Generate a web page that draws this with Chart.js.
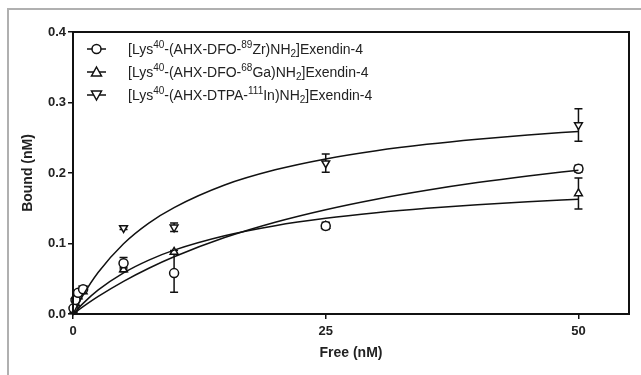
<!DOCTYPE html>
<html>
<head>
<meta charset="utf-8">
<script src="https://cdn.jsdelivr.net/npm/chart.js@4.4.0/dist/chart.umd.min.js"></script>
<style>
  html, body { margin: 0; padding: 0; background: #fff; }
  #wrap { width: 641px; height: 375px; position: relative; }
</style>
</head>
<body>
<div id="wrap"><canvas id="bindingChart" width="641" height="375"></canvas></div>
<script>

// DATA

const freeConc = [0.05, 0.25, 0.5, 1, 5, 10, 25, 50];

const zrBound = [0.008, 0.02, 0.03, 0.035, 0.072, 0.058, 0.125, 0.206];
const zrErr   = [0, 0, 0, 0, 0.008, 0.027, 0.004, 0.005];

const gaBound = [0.004, 0.015, 0.025, 0.032, 0.063, 0.088, 0.125, 0.171];
const gaErr   = [0, 0, 0, 0, 0.003, 0.002, 0.005, 0.022];

const inBound = [0.006, 0.018, 0.03, 0.036, 0.122, 0.123, 0.214, 0.268];
const inErr   = [0, 0, 0, 0, 0.002, 0.006, 0.013, 0.023];

// fitted curves
const curveX   = [0, 1, 2.5, 5, 7.5, 10, 15, 20, 25, 30, 35, 40, 45, 50];
const zrCurve  = [0, 0.0104, 0.0249, 0.0463, 0.0649, 0.0812, 0.1084, 0.1302, 0.148, 0.1629, 0.1755, 0.1864, 0.1958, 0.204];
const gaCurve  = [0, 0.0151, 0.0341, 0.0583, 0.0765, 0.0906, 0.111, 0.1253, 0.1357, 0.1436, 0.1499, 0.155, 0.1592, 0.1627];
const inCurve  = [0, 0.0267, 0.0592, 0.0997, 0.129, 0.151, 0.183, 0.2045, 0.22, 0.2316, 0.2407, 0.248, 0.254, 0.259];

const yTicks = [0, 0.1, 0.2, 0.3, 0.4];
const xTicks = [0, 25, 50];

const legendLabels = [
    [["[Lys"], ["40", "sup"], ["-(AHX-DFO-"], ["89", "sup"], ["Zr)NH"], ["2", "sub"], ["]Exendin-4"]],
    [["[Lys"], ["40", "sup"], ["-(AHX-DFO-"], ["68", "sup"], ["Ga)NH"], ["2", "sub"], ["]Exendin-4"]],
    [["[Lys"], ["40", "sup"], ["-(AHX-DTPA-"], ["111", "sup"], ["In)NH"], ["2", "sub"], ["]Exendin-4"]]
];
const legendShapes = ["circle", "up", "down"];

const FONT = '"Liberation Sans", Arial, sans-serif';


// HELPERS

function points(xs, ys) {
    return xs.map((x, i) => ({ x: x, y: ys[i] }));
}

function drawMarker(ctx, shape, x, y) {
    ctx.save();
    ctx.fillStyle = "#fff";
    ctx.strokeStyle = "#111";
    ctx.lineWidth = 1.5;
    ctx.beginPath();
    if (shape === "circle") {
        ctx.arc(x, y, 4.5, 0, Math.PI * 2);
    } else if (shape === "up") {
        ctx.moveTo(x, y - 5);
        ctx.lineTo(x + 5, y + 4);
        ctx.lineTo(x - 5, y + 4);
        ctx.closePath();
    } else {
        ctx.moveTo(x, y + 5);
        ctx.lineTo(x + 5, y - 4);
        ctx.lineTo(x - 5, y - 4);
        ctx.closePath();
    }
    ctx.fill();
    ctx.stroke();
    ctx.restore();
}

function drawRich(ctx, parts, x, y) {
    let cx = x;
    parts.forEach(p => {
        let dy = 0;
        if (p[1] === "sup" || p[1] === "sub") {
            ctx.font = "10px " + FONT;
            dy = p[1] === "sup" ? -5 : 4;
        } else {
            ctx.font = "14px " + FONT;
        }
        ctx.fillText(p[0], cx, y + dy);
        cx += ctx.measureText(p[0]).width;
    });
}


// PLUGINS

const errorBars = {
    id: "errorBars",
    beforeDatasetsDraw(chart) {
        const ctx = chart.ctx;
        const xs = chart.scales.x;
        const ys = chart.scales.y;
        const sets = [[zrBound, zrErr], [gaBound, gaErr], [inBound, inErr]];
        ctx.save();
        ctx.strokeStyle = "#111";
        ctx.lineWidth = 1.5;
        sets.forEach(s => {
            freeConc.forEach((f, i) => {
                if (!s[1][i]) return;
                const px = xs.getPixelForValue(f);
                const top = ys.getPixelForValue(s[0][i] + s[1][i]);
                const bot = ys.getPixelForValue(s[0][i] - s[1][i]);
                ctx.beginPath();
                ctx.moveTo(px, top); ctx.lineTo(px, bot);
                ctx.moveTo(px - 4, top); ctx.lineTo(px + 4, top);
                ctx.moveTo(px - 4, bot); ctx.lineTo(px + 4, bot);
                ctx.stroke();
            });
        });
        ctx.restore();
    }
};

const decorations = {
    id: "decorations",
    afterDraw(chart) {
        const ctx = chart.ctx;
        const a = chart.chartArea;
        ctx.save();

        // outer gray frame
        ctx.strokeStyle = "#b0b0b0";
        ctx.lineWidth = 2;
        ctx.beginPath();
        ctx.moveTo(8, 380);
        ctx.lineTo(8, 9);
        ctx.lineTo(645, 9);
        ctx.stroke();

        // plot box
        ctx.strokeStyle = "#111";
        ctx.lineWidth = 2;
        ctx.strokeRect(a.left, a.top, a.right - a.left, a.bottom - a.top);

        // axis titles
        ctx.fillStyle = "#222";
        ctx.font = "bold 14px " + FONT;
        ctx.textAlign = "center";
        ctx.textBaseline = "middle";
        ctx.fillText("Free (nM)", (a.left + a.right) / 2, 353);
        ctx.save();
        ctx.translate(28, (a.top + a.bottom) / 2);
        ctx.rotate(-Math.PI / 2);
        ctx.fillText("Bound (nM)", 0, 0);
        ctx.restore();

        // legend
        ctx.textAlign = "left";
        ctx.textBaseline = "middle";
        legendLabels.forEach((parts, i) => {
            const y = 49 + i * 23;
            ctx.strokeStyle = "#111";
            ctx.lineWidth = 1.5;
            ctx.beginPath();
            ctx.moveTo(87, y); ctx.lineTo(106, y);
            ctx.stroke();
            drawMarker(ctx, legendShapes[i], 96.5, y);
            ctx.fillStyle = "#222";
            drawRich(ctx, parts, 128, y + 1);
        });

        ctx.restore();
    }
};


// CHART

const curveStyle = {
    showLine: true,
    borderColor: "#111",
    borderWidth: 1.5,
    pointRadius: 0,
    cubicInterpolationMode: "monotone",
    fill: false
};

const markerStyle = {
    showLine: false,
    borderColor: "#111",
    backgroundColor: "#fff",
    borderWidth: 1.5,
    pointRadius: 4.5
};

new Chart(document.getElementById("bindingChart"), {

    type: "scatter",

    data: {
        datasets: [
            Object.assign({ data: points(curveX, zrCurve) }, curveStyle),
            Object.assign({ data: points(curveX, gaCurve) }, curveStyle),
            Object.assign({ data: points(curveX, inCurve) }, curveStyle),
            Object.assign({ data: points(freeConc, zrBound), pointStyle: "circle" }, markerStyle),
            Object.assign({ data: points(freeConc, gaBound), pointStyle: "triangle" }, markerStyle),
            Object.assign({ data: points(freeConc, inBound), pointStyle: "triangle", rotation: 180 }, markerStyle)
        ]
    },

    options: {
        responsive: false,
        animation: false,
        clip: false,
        layout: { padding: { top: 32, right: 12, left: 0, bottom: 0 } },
        plugins: {
            legend: { display: false },
            tooltip: { enabled: false }
        },
        scales: {
            x: {
                type: "linear",
                min: 0,
                max: 55,
                afterFit(scale) { scale.height = 61; },
                afterBuildTicks(scale) { scale.ticks = xTicks.map(v => ({ value: v })); },
                border: { color: "#111", width: 2 },
                grid: { drawOnChartArea: false, drawTicks: true, tickLength: 5, color: "#111", lineWidth: 1.5 },
                ticks: {
                    color: "#222",
                    padding: 5,
                    font: { family: FONT, size: 13, weight: "bold" },
                    callback: v => String(v)
                }
            },
            y: {
                type: "linear",
                min: 0,
                max: 0.4,
                afterFit(scale) { scale.width = 73; },
                afterBuildTicks(scale) { scale.ticks = yTicks.map(v => ({ value: v })); },
                border: { color: "#111", width: 2 },
                grid: { drawOnChartArea: false, drawTicks: true, tickLength: 5, color: "#111", lineWidth: 1.5 },
                ticks: {
                    color: "#222",
                    padding: 2,
                    font: { family: FONT, size: 13, weight: "bold" },
                    callback: v => v.toFixed(1)
                }
            }
        }
    },

    plugins: [errorBars, decorations]

});

</script>
</body>
</html>
